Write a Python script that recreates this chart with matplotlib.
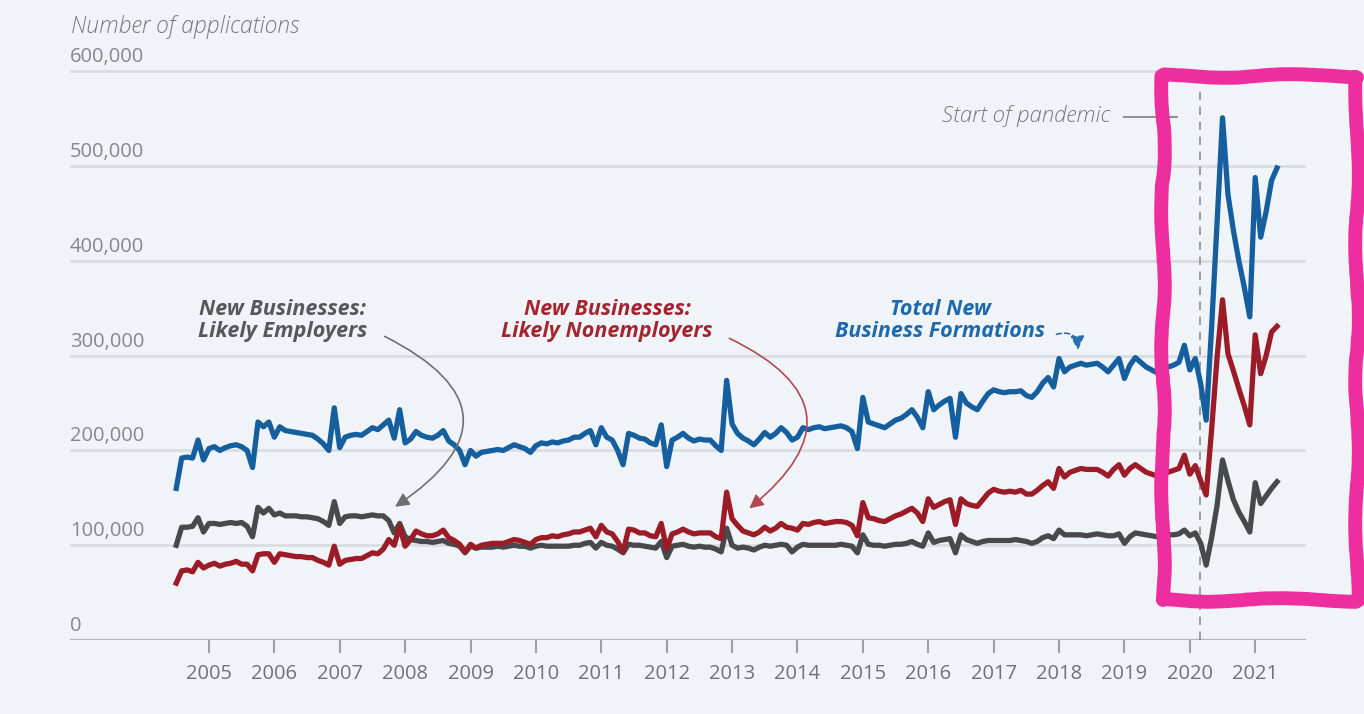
import numpy as np
import pandas as pd
import matplotlib
matplotlib.use("Agg")
import matplotlib.pyplot as plt
from matplotlib.patches import FancyArrowPatch
from matplotlib.transforms import offset_copy

# monthly business applications, thousands, Jul 2004 - May 2021
total = [
    160, 192, 193, 192, 211, 190,
    202, 204, 200, 203, 205, 206, 204, 200, 182, 230, 225, 230,
    214, 225, 221, 220, 219, 218, 217, 216, 212, 207, 200, 245,
    203, 214, 216, 217, 216, 220, 224, 222, 227, 232, 213, 243,
    208, 212, 220, 216, 214, 213, 216, 221, 210, 206, 200, 185,
    200, 194, 198, 199, 200, 201, 200, 203, 206, 204, 202, 198,
    205, 208, 207, 209, 208, 210, 211, 214, 214, 218, 221, 206,
    224, 214, 211, 200, 185, 218, 216, 213, 212, 208, 206, 227,
    183, 211, 214, 218, 213, 210, 212, 211, 211, 205, 200, 274,
    228, 218, 213, 210, 206, 212, 219, 214, 218, 224, 219, 211,
    214, 224, 222, 224, 225, 223, 224, 225, 226, 224, 220, 202,
    256, 230, 228, 226, 224, 228, 232, 234, 238, 243, 235, 224,
    262, 243, 248, 252, 255, 214, 260, 250, 246, 243, 252, 260,
    264, 262, 261, 262, 262, 263, 258, 256, 262, 271, 277, 267,
    297, 283, 288, 290, 292, 290, 291, 292, 288, 283, 290, 297,
    276, 290, 298, 293, 288, 285, 282, 287, 288, 290, 293, 311,
    285, 297, 270, 232, 330, 440, 551, 470, 432, 400, 372, 341,
    488, 425, 452, 485, 498,
]

employers = [
    100, 119, 119, 120, 129, 114,
    123, 123, 122, 123, 124, 123, 124, 120, 109, 140, 134, 139,
    132, 134, 131, 131, 131, 130, 130, 129, 128, 125, 121, 146,
    123, 130, 131, 131, 130, 131, 132, 131, 131, 126, 113, 123,
    109, 106, 105, 104, 104, 103, 104, 105, 102, 101, 99, 92,
    99, 97, 98, 98, 98, 99, 98, 99, 100, 99, 99, 97,
    99, 100, 99, 99, 99, 99, 99, 100, 100, 102, 103, 97,
    103, 100, 99, 96, 92, 101, 100, 100, 99, 98, 97, 104,
    87, 99, 100, 101, 99, 98, 99, 98, 98, 96, 93, 118,
    100, 97, 98, 97, 95, 98, 100, 99, 100, 101, 100, 93,
    98, 101, 100, 100, 100, 100, 100, 100, 101, 100, 99, 92,
    111, 101, 100, 100, 99, 100, 101, 101, 102, 104, 101, 99,
    113, 103, 105, 106, 107, 92, 111, 106, 104, 102, 104, 105,
    105, 105, 105, 105, 106, 105, 104, 102, 104, 108, 110, 107,
    116, 111, 111, 111, 111, 110, 111, 112, 111, 110, 110, 112,
    102, 109, 113, 112, 111, 110, 109, 110, 111, 111, 112, 116,
    110, 113, 102, 79, 108, 142, 190, 168, 148, 135, 125, 114,
    166, 144, 152, 160, 167,
]

nonemployers = [
    60, 73, 74, 72, 82, 76,
    79, 81, 78, 80, 81, 83, 80, 80, 73, 90, 91, 91,
    82, 91, 90, 89, 88, 88, 87, 87, 84, 82, 79, 99,
    80, 84, 85, 86, 86, 89, 92, 91, 96, 106, 100, 120,
    99, 106, 115, 112, 110, 110, 112, 116, 108, 105, 101, 93,
    101, 97, 100, 101, 102, 102, 102, 104, 106, 105, 103, 101,
    106, 108, 108, 110, 109, 111, 112, 114, 114, 116, 118, 109,
    121, 114, 112, 104, 93, 117, 116, 113, 113, 110, 109, 123,
    96, 112, 114, 117, 114, 112, 113, 113, 113, 109, 107, 156,
    128, 121, 115, 113, 111, 114, 119, 115, 118, 123, 119, 118,
    116, 123, 122, 124, 125, 123, 124, 125, 125, 124, 121, 110,
    145, 129, 128, 126, 125, 128, 131, 133, 136, 139, 134, 125,
    149, 140, 143, 146, 148, 122, 149, 144, 142, 141, 148, 155,
    159, 157, 156, 157, 156, 158, 154, 154, 158, 163, 167, 160,
    181, 172, 177, 179, 181, 180, 180, 180, 177, 173, 180, 185,
    174, 181, 185, 181, 177, 175, 173, 177, 177, 179, 181, 195,
    175, 184, 168, 153, 222, 298, 359, 302, 284, 265, 247, 227,
    322, 281, 300, 325, 331,
]

years = list(range(2005, 2022))
yticks = [0, 100000, 200000, 300000, 400000, 500000, 600000]

months = pd.date_range("2004-07-01", "2021-05-01", freq="MS")
t = months.year + (months.month - 1) / 12

BG = "#f0f4f9"
BLUE = "#155f9f"
RED = "#9b1c26"
GRAY = "#48494d"
PINK = "#ee2e9f"

plt.rcParams["font.family"] = ["Open Sans", "DejaVu Sans"]

fig = plt.figure(figsize=(13.64, 7.14), dpi=100, facecolor=BG)
ax = fig.add_axes([0.0513, 0.1036, 0.9062, 0.8031])
ax.set_facecolor(BG)
ax.set_xlim(2002.875, 2021.777)
ax.set_ylim(0, 605000)
for s in ax.spines.values():
    s.set_visible(False)

# grid + y labels sitting on top of each line
lbl_tr = offset_copy(ax.get_yaxis_transform(), fig=fig, x=0, y=3, units="points")
for v in yticks:
    if v == 0:
        ax.axhline(v, color="#b4b7bc", lw=2.4, zorder=1)
    else:
        ax.axhline(v, color="#d8dbe0", lw=1.8, zorder=1)
    ax.text(0.0, v, f"{v:,}", transform=lbl_tr, ha="left", va="bottom",
            fontsize=14.5, color="#85878b")
ax.set_yticks([])

ax.set_xticks(years)
ax.tick_params(axis="x", length=9, width=1.5, color="#9c9fa4",
               labelsize=14.5, labelcolor="#707276", pad=8)

ax.plot(t, np.array(employers) * 1000, color=GRAY, lw=3.8, zorder=3,
        solid_joinstyle="round")
ax.plot(t, np.array(nonemployers) * 1000, color=RED, lw=3.8, zorder=4,
        solid_joinstyle="round")
ax.plot(t, np.array(total) * 1000, color=BLUE, lw=3.8, zorder=5,
        solid_joinstyle="round")

fig.text(0.052, 0.962, "Number of applications", ha="left", va="center",
         fontsize=16.5, style="italic", fontweight="light", color="#76787c")

# series labels
lab = dict(ha="center", va="center", fontsize=15.5, fontweight="bold",
           style="italic", linespacing=1.05, zorder=6)
ax.text(2006.13, 337000, "New Businesses:\nLikely Employers", color="#56585c", **lab)
ax.text(2011.09, 337000, "New Businesses:\nLikely Nonemployers", color="#a3252f", **lab)
ax.text(2016.18, 337000, "Total New\nBusiness Formations", color="#1d69ab", **lab)

arrows = [
    ((2007.65, 321700), (2007.81, 139000), -0.87, "#6d6f73", "-"),
    ((2012.92, 319600), (2013.23, 137000), -0.8, "#b2484f", "-"),
    ((2017.92, 321700), (2018.29, 303000), -0.7, "#2a6fae", (0, (3, 2))),
]
for start, end, rad, col, ls in arrows:
    ax.add_patch(FancyArrowPatch(start, end, connectionstyle=f"arc3,rad={rad}",
                                 arrowstyle="-|>,head_length=0.6,head_width=0.3",
                                 mutation_scale=14, color=col, lw=1.2,
                                 linestyle=ls, zorder=6))

# pandemic marker
ax.plot([2020.15, 2020.15], [0, 580000], color="#8c8f94", lw=1.2,
        ls=(0, (5, 4)), zorder=2)
ax.text(2018.78, 553000, "Start of pandemic", ha="right", va="center",
        fontsize=16, style="italic", fontweight="light", color="#76787c")
ax.plot([2019.0, 2019.8], [552000, 552000], color="#8c8f94", lw=1.4, zorder=2)

# hand-drawn highlight around 2020-2021
bx0, bx1, by0, by1 = 2019.59, 2022.55, 42000, 595000
box, = ax.plot([bx0, bx0, bx1, bx1, bx0], [by0, by1, by1, by0, by0],
               color=PINK, lw=10, clip_on=False, zorder=7,
               solid_joinstyle="round", solid_capstyle="round")
box.set_sketch_params(scale=1.8, length=220, randomness=5)

fig.savefig("out.png", dpi=100, facecolor=BG)
